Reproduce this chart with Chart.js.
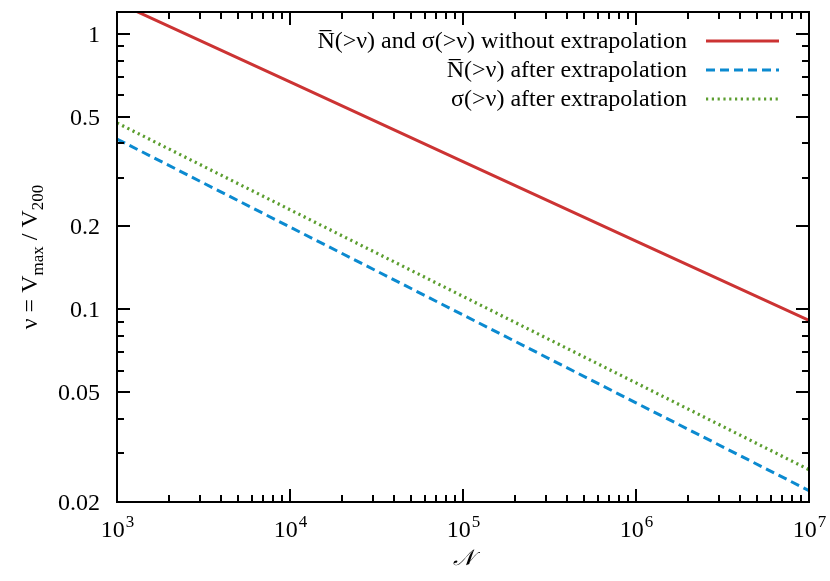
<!DOCTYPE html>
<html>
<head>
<meta charset="utf-8">
<script src="https://cdn.jsdelivr.net/npm/chart.js@4"></script>
<style>
  html, body { margin: 0; padding: 0; background: #fff; }
  canvas { display: block; }
</style>
</head>
<body>
<canvas id="chart" width="830" height="581"></canvas>
<script>
// halo count N on the x axis, nu = Vmax/V200 on the y axis (log-log)
const nValues = [1e3, 1e4, 1e5, 1e6, 1e7];
const noExtrapolation = [1.30, 0.669, 0.344, 0.177, 0.0912];
const nBarExtrapolated = [0.415, 0.199, 0.0955, 0.0458, 0.0220];
const sigmaExtrapolated = [0.475, 0.230, 0.1115, 0.0541, 0.0262];

const seriesLabels = [
    'N\u0305(>\u03bd) and \u03c3(>\u03bd) without extrapolation',
    'N\u0305(>\u03bd) after extrapolation',
    '\u03c3(>\u03bd) after extrapolation'
];

const xMajorTicks = [1e3, 1e4, 1e5, 1e6, 1e7];
const xTickExponents = ['3', '4', '5', '6', '7'];
const yMajorTicks = [0.02, 0.05, 0.1, 0.2, 0.5, 1];
const yTickLabels = ['0.02', '0.05', '0.1', '0.2', '0.5', '1'];
const yMinorTicks = [0.03, 0.04, 0.06, 0.07, 0.08, 0.09, 0.3, 0.4, 0.6, 0.7, 0.8, 0.9];

const FONT = '"Liberation Serif", "Times New Roman", serif';

function toPoints(ys) {
    return nValues.map((n, i) => ({ x: n, y: ys[i] }));
}

function xMinorTicks() {
    const out = [];
    for (let d = 0; d < xMajorTicks.length - 1; d++) {
        for (let k = 2; k <= 9; k++) out.push(xMajorTicks[d] * k);
    }
    return out;
}

const framePlugin = {
    id: 'frame',
    afterDraw(chart) {
        const { ctx, chartArea: a, scales: { x, y } } = chart;
        ctx.save();
        ctx.strokeStyle = '#000';
        ctx.lineWidth = 2;
        ctx.lineCap = 'butt';

        // inward ticks on all four sides
        ctx.beginPath();
        const xt = (v, len) => {
            const p = Math.round(x.getPixelForValue(v));
            ctx.moveTo(p, a.bottom); ctx.lineTo(p, a.bottom - len);
            ctx.moveTo(p, a.top); ctx.lineTo(p, a.top + len);
        };
        const yt = (v, len) => {
            const p = Math.round(y.getPixelForValue(v));
            ctx.moveTo(a.left, p); ctx.lineTo(a.left + len, p);
            ctx.moveTo(a.right, p); ctx.lineTo(a.right - len, p);
        };
        xMajorTicks.forEach(v => xt(v, 13));
        xMinorTicks().forEach(v => xt(v, 7));
        yMajorTicks.forEach(v => yt(v, 13));
        yMinorTicks.forEach(v => yt(v, 7));
        ctx.stroke();

        ctx.strokeRect(a.left, a.top, a.right - a.left, a.bottom - a.top);

        ctx.fillStyle = '#000';

        // y tick labels
        ctx.font = '24px ' + FONT;
        ctx.textAlign = 'right';
        ctx.textBaseline = 'alphabetic';
        yMajorTicks.forEach((v, i) => {
            ctx.fillText(yTickLabels[i], a.left - 17, y.getPixelForValue(v) + 8);
        });

        // x tick labels: 10^n
        xMajorTicks.forEach((v, i) => {
            const p = x.getPixelForValue(v);
            ctx.font = '24px ' + FONT;
            const wBase = ctx.measureText('10').width;
            ctx.font = '17px ' + FONT;
            const wExp = ctx.measureText(xTickExponents[i]).width;
            const left = p - (wBase + wExp) / 2;
            ctx.textAlign = 'left';
            ctx.font = '24px ' + FONT;
            ctx.fillText('10', left, a.bottom + 35);
            ctx.font = '17px ' + FONT;
            ctx.fillText(xTickExponents[i], left + wBase + 1, a.bottom + 25);
        });

        // x axis title
        ctx.font = 'italic 22px ' + FONT;
        ctx.textAlign = 'center';
        ctx.fillText('\ud835\udca9', (a.left + a.right) / 2, a.bottom + 63);

        // y axis title with subscripts, rotated
        const parts = [
            ['\u03bd = V', 24, 0],
            ['max', 17, 6],
            [' / V', 24, 0],
            ['200', 17, 6]
        ];
        let total = 0;
        parts.forEach(pt => { ctx.font = pt[1] + 'px ' + FONT; total += ctx.measureText(pt[0]).width; });
        ctx.translate(37, (a.top + a.bottom) / 2);
        ctx.rotate(-Math.PI / 2);
        ctx.textAlign = 'left';
        let cx = -total / 2;
        parts.forEach(pt => {
            ctx.font = pt[1] + 'px ' + FONT;
            ctx.fillText(pt[0], cx, pt[2]);
            cx += ctx.measureText(pt[0]).width;
        });
        ctx.restore();

        // legend, text right-aligned with sample line on the right
        ctx.save();
        ctx.font = '24px ' + FONT;
        ctx.textAlign = 'right';
        ctx.textBaseline = 'middle';
        chart.data.datasets.forEach((ds, i) => {
            const rowY = a.top + 29 + i * 29;
            ctx.fillStyle = '#000';
            ctx.fillText(ds.label, a.right - 122, rowY + 1);
            ctx.strokeStyle = ds.borderColor;
            ctx.lineWidth = ds.borderWidth;
            ctx.setLineDash(ds.borderDash || []);
            ctx.beginPath();
            ctx.moveTo(a.right - 103, rowY);
            ctx.lineTo(a.right - 30, rowY);
            ctx.stroke();
        });
        ctx.restore();
    }
};

new Chart(document.getElementById('chart').getContext('2d'), {
    type: 'line',
    data: {
        datasets: [
            {
                label: seriesLabels[0],
                data: toPoints(noExtrapolation),
                borderColor: '#cc3333',
                borderWidth: 3
            },
            {
                label: seriesLabels[1],
                data: toPoints(nBarExtrapolated),
                borderColor: '#0b8ad0',
                borderWidth: 3,
                borderDash: [9, 5]
            },
            {
                label: seriesLabels[2],
                data: toPoints(sigmaExtrapolated),
                borderColor: '#5c9e30',
                borderWidth: 3.2,
                borderDash: [2.2, 3.6]
            }
        ]
    },
    options: {
        responsive: false,
        animation: false,
        devicePixelRatio: 1,
        layout: { padding: { left: 117, top: 12, right: 21, bottom: 79 } },
        elements: { point: { radius: 0 }, line: { tension: 0, fill: false } },
        scales: {
            x: { type: 'logarithmic', min: 1e3, max: 1e7, display: false },
            y: { type: 'logarithmic', min: 0.02, max: 1.2, display: false }
        },
        plugins: {
            legend: { display: false },
            tooltip: { enabled: false }
        }
    },
    plugins: [framePlugin]
});
</script>
</body>
</html>
